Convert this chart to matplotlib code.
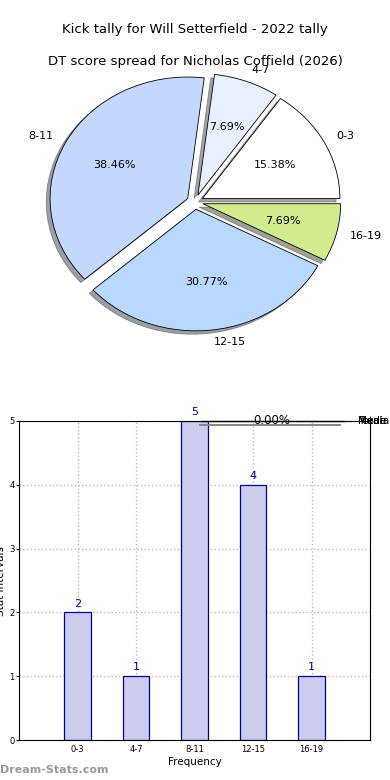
import matplotlib.pyplot as plt
import numpy as np

# data
intervals = ['0-3', '4-7', '8-11', '12-15', '16-19']
counts = [2, 1, 5, 4, 1]
pie_colors = ['#ffffff', '#e8f0ff', '#c4d8ff', '#b8d8ff', '#d0ec8c']
explode = [0.06, 0.06, 0.06, 0.06, 0.06]

title_top = 'Kick tally for Will Setterfield - 2022 tally'
title_pie = 'DT score spread for Nicholas Coffield (2026)'


def main():
    fig = plt.figure(figsize=(3.9, 7.8), dpi=100)
    fig.text(0.5, 1 - 30 / 780, title_top, ha='center', va='center', fontsize=9.5)
    fig.text(0.5, 1 - 61 / 780, title_pie, ha='center', va='center', fontsize=9.5)

    # pie
    axp = fig.add_axes([(195 - 172) / 390, 1 - 354 / 780, 344 / 390, 304 / 780])
    wedges, texts, autotexts = axp.pie(
        counts, labels=intervals, colors=pie_colors, explode=explode,
        autopct='%.2f%%', startangle=0, counterclock=True, shadow=True,
        pctdistance=0.6, labeldistance=1.1,
        wedgeprops={'edgecolor': 'black', 'linewidth': 0.6},
        textprops={'fontsize': 8})
    axp.set_aspect('auto')

    # bars
    ax = fig.add_axes([19 / 390, 1 - 740 / 780, 351 / 390, 319 / 780])
    x = np.arange(len(intervals))
    bars = ax.bar(x, counts, width=0.45, color='#ccccee', edgecolor='#000099', linewidth=0.9, zorder=2)
    for b, v in zip(bars, counts):
        ax.text(b.get_x() + b.get_width() / 2, v + 0.06, str(v), ha='center', va='bottom',
                color='#000099', fontsize=8)
    ax.set_xlim(-1, 5)
    ax.set_ylim(0, 5)
    ax.set_xticks(x)
    ax.set_xticklabels(intervals, fontsize=6)
    ax.set_yticks(range(6))
    ax.tick_params(axis='y', labelsize=6, length=2, pad=1)
    ax.tick_params(axis='x', length=0)
    ax.grid(True, linestyle=':', color='#bbbbbb', linewidth=1)
    ax.set_axisbelow(True)
    ax.set_xlabel('Frequency', fontsize=7.5, labelpad=2)
    ax.set_ylabel('Stat Intervals', fontsize=7.5)
    ax.yaxis.set_label_coords(-0.036, 0.5)

    # leftover empty-pie artifacts at top right
    ax.plot([0.52, 0.925], [1.0, 1.0], transform=ax.transAxes, color='black', lw=1, clip_on=False)
    ax.plot([0.515, 0.915], [0.986, 0.986], transform=ax.transAxes, color='#888888', lw=1.4, clip_on=False)
    ax.text(0.72, 1.0, '0.00%', transform=ax.transAxes, ha='center', va='center', fontsize=8.5)
    for lab in ['Total', 'Median', 'Mode', 'Mean']:
        ax.text(0.965, 1.0, lab, transform=ax.transAxes, ha='left', va='center', fontsize=7.5)

    fig.text(0.0, 1 - 770 / 780, 'Dream-Stats.com', color='#999999', fontsize=8,
             ha='left', va='center', fontweight='bold')

    fig.savefig('out.png', dpi=100)


if __name__ == '__main__':
    main()
